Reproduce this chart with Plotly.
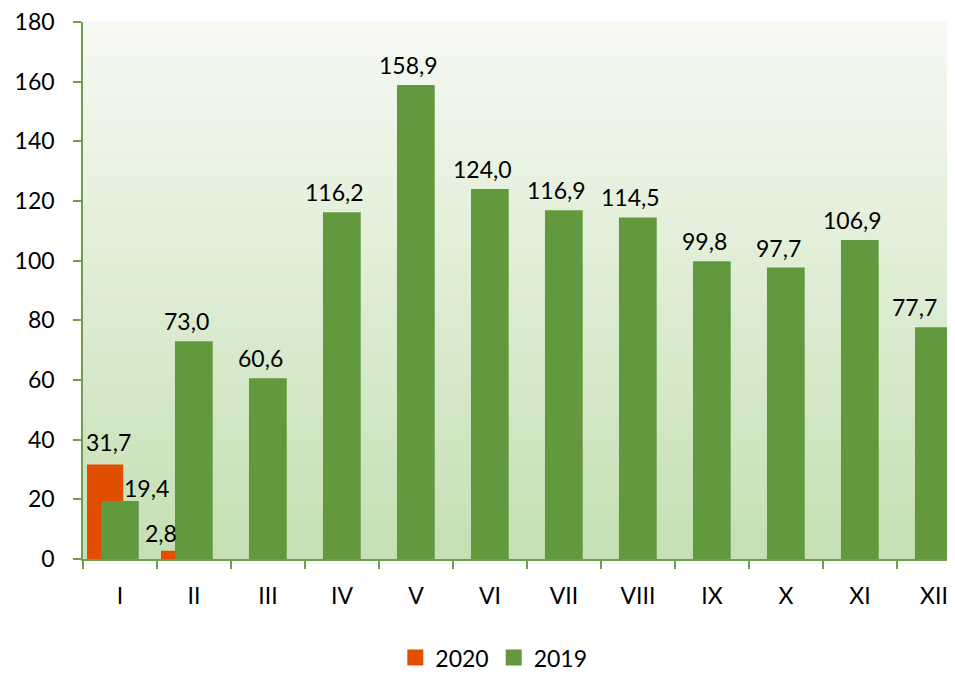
import plotly.graph_objects as go

months = ["I", "II", "III", "IV", "V", "VI", "VII", "VIII", "IX", "X", "XI", "XII"]
values_2019 = [19.4, 73.0, 60.6, 116.2, 158.9, 124.0, 116.9, 114.5, 99.8, 97.7, 106.9, 77.7]
months_2020 = ["I", "II"]
values_2020 = [31.7, 2.8]

ORANGE = "#E24E00"
GREEN = "#62993E"
AXIS = "#6E9E4E"
FONT = "Lato, Open Sans, sans-serif"
FS = 23

# bar geometry (fraction of category width)
W20, OFF20 = 0.49, -0.446
W19, OFF19 = 0.51, -0.257
CAT_PX = 74  # approx pixels per category

# label nudges (pixels) relative to bar centre
nudge_2019 = [(27, -3)] + [(-7, 4)] * 10 + [(-19, 4)]
nudge_2020 = [(3, 6), (-18, 2)]

def fmt(v):
    return f"{v:.1f}".replace(".", ",")

fig = go.Figure()
fig.add_trace(go.Bar(
    x=months_2020, y=values_2020, name="2020", showlegend=False,
    marker=dict(color=ORANGE, line=dict(width=0)),
    width=W20, offset=OFF20,
))
fig.add_trace(go.Bar(
    x=months, y=values_2019, name="2019", showlegend=False,
    marker=dict(color=GREEN, line=dict(width=0)),
    width=W19, offset=OFF19,
))
# legend entries with larger square swatches
for name, col in (("2020", ORANGE), ("2019", GREEN)):
    fig.add_trace(go.Scatter(
        x=[None], y=[None], mode="markers", name=name,
        marker=dict(symbol="square", size=16, color=col),
    ))

annotations = []
c20 = (OFF20 + W20 / 2) * CAT_PX
c19 = (OFF19 + W19 / 2) * CAT_PX
for m, v, (dx, dy) in zip(months_2020, values_2020, nudge_2020):
    annotations.append(dict(x=m, y=v, text=fmt(v), showarrow=False, xref="x", yref="y",
                            yanchor="bottom", xanchor="center", xshift=c20 + dx, yshift=dy,
                            font=dict(size=FS, color="black", family=FONT)))
for m, v, (dx, dy) in zip(months, values_2019, nudge_2019):
    annotations.append(dict(x=m, y=v, text=fmt(v), showarrow=False, xref="x", yref="y",
                            yanchor="bottom", xanchor="center", xshift=c19 + dx, yshift=dy,
                            font=dict(size=FS, color="black", family=FONT)))

# gradient background stripes
shapes = []
n = 80
top = (246, 249, 243)
bot = (197, 224, 180)
for i in range(n):
    t = i / (n - 1)
    c = tuple(int(round(top[k] + (bot[k] - top[k]) * t)) for k in range(3))
    shapes.append(dict(
        type="rect", xref="paper", yref="paper",
        x0=0, x1=1, y0=1 - (i + 1) / n, y1=1 - i / n + 0.002,
        fillcolor=f"rgb{c}", line=dict(width=0), layer="below",
    ))

fig.update_layout(
    width=947, height=667,
    margin=dict(l=75, r=0, t=14, b=116),
    barmode="overlay",
    paper_bgcolor="white", plot_bgcolor="white",
    shapes=shapes,
    annotations=annotations,
    font=dict(family=FONT, size=FS, color="black"),
    showlegend=True,
    legend=dict(orientation="h", xref="container", yref="container",
                x=0.513, xanchor="center", y=0.026, yanchor="middle",
                font=dict(size=FS, family=FONT), itemwidth=30,
                traceorder="normal"),
    xaxis=dict(
        range=[-0.5, 11.284], showgrid=False, showline=True, linecolor=AXIS, linewidth=1.5,
        ticks="outside", tickson="boundaries", ticklen=8, tickcolor=AXIS, tickwidth=1.5,
        tickfont=dict(size=FS, family=FONT), ticklabelstandoff=16,
    ),
    yaxis=dict(
        range=[0, 180], dtick=20, showgrid=False, showline=True, linecolor=AXIS, linewidth=1.5,
        ticks="outside", ticklen=8, tickcolor=AXIS, tickwidth=1.5, zeroline=False,
        tickfont=dict(size=FS, family=FONT), ticklabelstandoff=14,
        ticklabeloverflow="allow",
    ),
)

fig.write_html("out.html")
